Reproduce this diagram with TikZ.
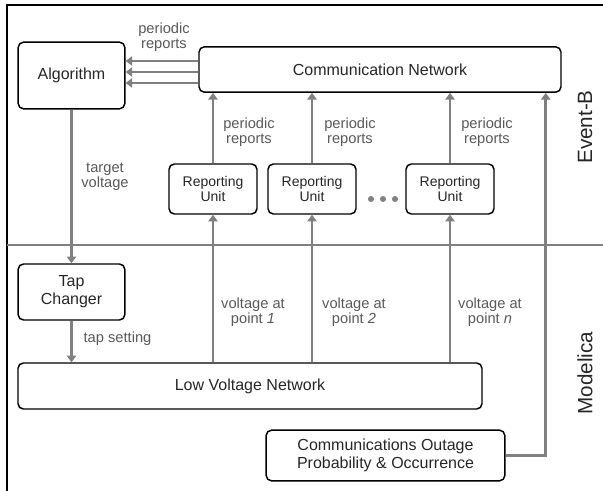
\documentclass[tikz,border=0pt]{standalone}
\usepackage{fontspec}
\setmainfont{Liberation Sans}
\usetikzlibrary{arrows.meta, positioning, calc}
\definecolor{linegrey}{HTML}{808080}
\definecolor{labelgrey}{HTML}{595959}
\tikzset{
  >={Triangle[length=5pt, width=7pt]},
  box/.style={rectangle, rounded corners=4pt, draw=black, line width=1.1pt,
              align=center, inner sep=2pt, text=black!85,
              font=\fontsize{12}{13.5}\selectfont},
  boxru/.style={box, minimum width=66pt, minimum height=37.5pt,
                font=\fontsize{10.5}{11.3}\selectfont},
  flow/.style={->, line width=2pt, draw=linegrey},
  lbl/.style={font=\fontsize{11}{11.5}\selectfont, text=labelgrey, align=center},
  side/.style={font=\fontsize{15.5}{16}\selectfont, text=black!85, rotate=90},
}

\begin{document}
\begin{tikzpicture}[x=0.75pt, y=-0.75pt]
  \useasboundingbox (0,0) rectangle (603,491);
  % frame and layer divider
  \draw[line width=1.1pt] (7,491) -- (7,5) -- (603,5);
  \draw[line width=1.5pt, linegrey] (7,245.5) -- (603,245.5);
  \node[side] (evb) at (585,127) {Event-B};
  \node[side] (mod) at (585,373) {Modelica};

  % Event-B part
  \node[box, minimum width=80pt, minimum height=50pt] (alg) at (71.5,75.5) {Algorithm};
  \node[box, minimum width=271.5pt, minimum height=34pt] (comm) at (380,69.5) {Communication Network};
  \node[boxru] (ru1) at (213,189) {Reporting\\Unit};
  \node[boxru] (ru2) at (312,189) {Reporting\\Unit};
  \node[boxru] (ru3) at (450,189) {Reporting\\Unit};
  \foreach \x in {371,383,395} \fill[linegrey] (\x,199) circle (3);

  % Modelica part
  \node[box, minimum width=80pt, minimum height=42pt] (tap) at (71.5,292) {Tap\\Changer};
  \node[box, minimum width=348pt, minimum height=34.5pt] (lvn) at (250,386) {Low Voltage Network};
  \node[box, minimum width=179pt, minimum height=38pt] (outage) at (385.5,455.5) {Communications Outage\\Probability \& Occurrence};

  % connectors
  \foreach \dy in {6.4,-1.9,-10.1}
    \draw[flow] ([yshift=\dy pt]comm.west) -- ([yshift=\dy pt]comm.west -| alg.east);
  \node[lbl] (lrep) at (164,37) {periodic\\reports};
  \draw[flow] (alg.south) -- (tap.north);
  \node[lbl] (ltv) at (105,177) {target\\voltage};
  \draw[flow] (tap.south) -- (tap.south |- lvn.north);
  \node[lbl] (lts) at (117.5,339) {tap setting};
  \draw[flow] (lvn.north -| ru1.south) -- (ru1.south);
  \draw[flow] (lvn.north -| ru2.south) -- (ru2.south);
  \draw[flow] (lvn.north -| ru3.south) -- (ru3.south);
  \draw[flow] (ru1.north) -- (ru1.north |- comm.south);
  \draw[flow] (ru2.north) -- (ru2.north |- comm.south);
  \draw[flow] (ru3.north) -- (ru3.north |- comm.south);
  \node[lbl] (lp1) at (249,132) {periodic\\reports};
  \node[lbl] (lp2) at (350,132) {periodic\\reports};
  \node[lbl] (lp3) at (487,132) {periodic\\reports};
  \node[lbl] (lv1) at (253,312.5) {voltage at\\point \textit{1}};
  \node[lbl] (lv2) at (354,312.5) {voltage at\\point \textit{2}};
  \node[lbl] (lv3) at (490,312.5) {voltage at\\point \textit{n}};
  \draw[flow] (outage.east) -| ($(comm.south east)+(-16,0)$);
\end{tikzpicture}
\end{document}
